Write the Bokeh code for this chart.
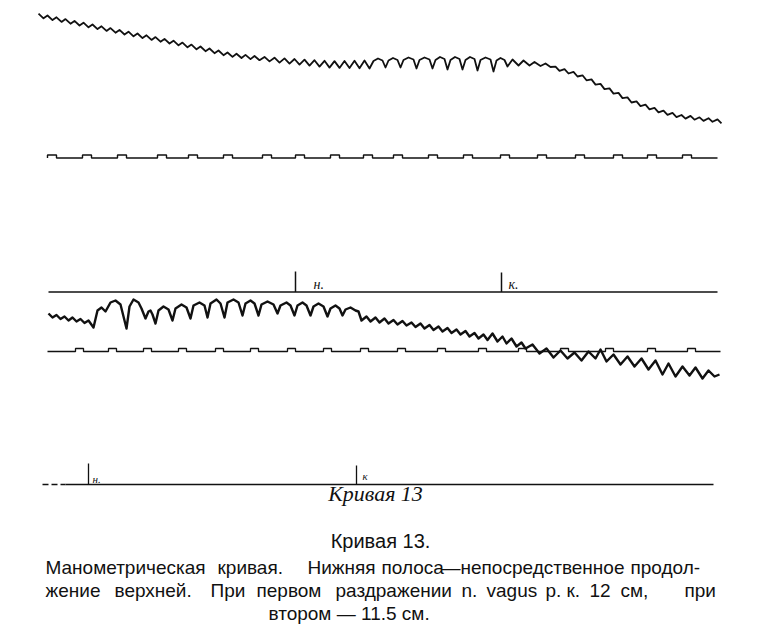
from bokeh.plotting import figure
from bokeh.models import Range1d
from bokeh.embed import file_html
from bokeh.resources import INLINE
from bokeh.core.properties import value

# ---------------- data read from the record (page units, y grows downward) ----------------
# upper strip: manometric trace (turning points of the pulse waves)
upper_trace_x = [38, 43, 47, 52, 56, 61, 65, 70, 74, 79, 83, 88, 92, 97, 101, 106, 110, 115, 119, 124,
                 128, 133, 137, 142, 146, 151, 155, 160, 164, 169, 173, 178, 182, 187, 191, 196, 200, 205, 209, 214,
                 218, 223, 227, 232, 236, 241, 245, 250, 254, 259,
                 264, 269, 274, 279, 284, 289, 294, 299, 304, 309, 314, 319, 324, 329, 334, 339, 344, 349, 354, 359, 364, 369,
                 373, 377.5, 382, 385, 388, 392.5, 397, 400, 403, 408, 413, 416, 419, 424, 429, 432, 435, 439.5, 444, 447,
                 450, 454.5, 459, 462, 465, 469.5, 474, 477, 480, 485, 490, 493, 496, 500, 504, 507,
                 512, 518, 523, 529, 534, 540, 545, 550,
                 555, 559, 564, 568, 573, 577, 582, 586, 591, 595, 600, 604, 609, 613, 618, 622, 627, 631, 636, 640,
                 645, 649, 654, 658, 663, 667, 672, 676, 681, 685, 690, 694, 699, 703, 708, 712, 717, 721]
upper_trace_y = [13.2, 17.8, 15.0, 19.6, 16.8, 21.4, 18.6, 23.2, 20.4, 25.0, 22.2, 26.8, 24.0, 28.6, 25.8, 30.4, 27.6, 32.2, 29.4, 34.0,
                 31.2, 35.8, 33.0, 37.6, 34.8, 39.4, 36.6, 41.2, 38.4, 43.0, 40.2, 44.8, 42.1, 46.8, 44.1, 48.8, 46.0, 50.7, 48.0, 52.7,
                 50.0, 54.7, 52.0, 56.4, 53.3, 57.5, 54.4, 58.6, 55.5, 59.7,
                 56.4, 60.9, 57.2, 62.1, 57.9, 63.1, 58.5, 64.1, 59.1, 65.1, 59.7, 66.1, 60.3, 67.1, 60.6, 67.4, 60.4, 67.6, 60.2, 67.8, 60.0, 68.0,
                 60.5, 58, 60, 67, 60, 57.5, 59.5, 67, 59.5, 57, 59, 68, 59.5, 57, 59, 68, 59.5, 56.5, 58.5, 69,
                 59.5, 56.5, 58.5, 69, 59.5, 56.5, 58.5, 70, 59.5, 57, 59, 71, 60, 57.5, 59.5, 66,
                 59, 65, 60, 65, 61.5, 65.5, 63, 66.5,
                 66.1, 70.4, 68.6, 73.0, 71.4, 76.0, 74.8, 79.8, 78.9, 84.1, 83.4, 88.6, 87.9, 93.1, 92.4, 97.6, 96.9, 102.0, 100.8, 105.6,
                 104.2, 108.8, 107.3, 111.9, 110.2, 114.4, 112.4, 116.6, 114.5, 118.1, 115.4, 119.2, 116.8, 120.4, 117.7, 121.3, 118.9, 122.8]

# time marker of the upper strip: start of each raised step
upper_time_marks = [47, 82, 117, 157, 188, 223, 262, 295, 330, 363, 393, 428, 463, 500, 537, 575, 613, 647, 682]

# lower strip: direct continuation of the upper record
lower_trace_x = [48, 52, 56, 60, 64, 68, 72, 76, 80, 84, 88, 93,
                 97, 101, 105, 110, 115, 120, 126, 129, 133, 138, 141, 145, 148, 150, 152,
                 155, 158, 163, 168, 172, 175, 181, 186, 190, 193, 199, 204, 207, 210, 216, 220,
                 224, 227, 233, 238, 242, 245, 250, 254, 258, 261, 267, 273, 277, 280, 286, 290,
                 294, 297, 302, 306, 310, 313, 318, 323, 327, 330, 335, 339, 342, 345, 350, 355, 358,
                 361, 366, 370, 375, 379, 384, 388, 393, 397, 402, 406, 411, 415, 420, 424, 429, 433, 438,
                 442, 447, 451, 456, 460, 465, 469, 474, 478, 483, 487, 492, 497, 502, 506, 511, 516, 521,
                 525, 532, 539, 546, 553, 560, 567, 574, 581, 588, 595, 600, 606, 613, 620, 627, 634, 641,
                 648, 655, 662, 668, 675, 682, 689, 695, 702, 708, 714, 719]
lower_trace_y = [313, 317, 314.5, 318.5, 316, 320, 317, 321, 318.5, 322.5, 320, 327,
                 310, 307, 311, 302, 300, 304, 328, 306, 299, 302, 308, 318, 311, 310, 314,
                 323, 310, 306, 309, 320, 308, 304, 307, 318, 305, 302, 305, 317, 303, 299, 303,
                 317, 302, 299, 302, 315, 303, 300, 303, 315, 304, 301, 304, 313, 305, 302, 305,
                 315, 305, 302, 305, 315, 306, 303, 306, 316, 308, 305, 308, 315, 309, 307, 310, 311,
                 320, 316, 321, 317, 322, 318, 323, 319.5, 324, 320.5, 325, 322, 326.5, 323, 328, 324.5, 329.5, 326,
                 331, 327.5, 332.5, 329, 334, 330.5, 336, 332.5, 338, 334, 339.5, 333, 341, 336, 343, 338, 346, 342,
                 348, 344, 353, 348, 357, 350, 358, 352, 360, 351, 358, 349, 361, 354, 364, 356, 366, 358,
                 369, 360, 374, 363, 376, 366, 375, 367, 378, 370, 376, 374]

lower_time_marks = [75, 108, 143, 178, 215, 250, 287, 323, 360, 397, 437, 478, 518, 560, 605, 647, 687]

# stimulation signal lines: start (н.) and end (к.) of vagus stimulation
signal_upper_marks = [295, 501]
signal_upper_labels = ["н.", "к."]
signal_lower_marks = [88, 356]
signal_lower_labels = ["н.", "к"]

title_text = "Кривая 13."
handwritten_text = "Кривая 13"
caption_line1 = ["Манометрическая", "кривая.", "Нижняя", "полоса", "—", "непосредственное", "продол-"]
caption_line2 = ["жение", "верхней.", "При", "первом", "раздражении", "n.", "vagus", "р.", "к.", "12", "см,", "при"]
caption_line3 = "втором — 11.5 см."

# ---------------- layout / style ----------------
INK = "#111111"
W, H = 760, 634
line1_x = [45, 217, 307, 381, 441, 460, 630]
line2_x = [45, 114, 210, 256, 335, 461, 486, 545, 566, 589, 620, 684]

p = figure(width=W, height=H, x_range=Range1d(0, W), y_range=Range1d(H, 0),
           output_backend="svg", toolbar_location=None,
           min_border=0, min_border_left=0, min_border_right=0, min_border_top=0, min_border_bottom=0)
p.axis.visible = False
p.grid.visible = False
p.outline_line_color = None
p.background_fill_color = "white"
p.border_fill_color = "white"


def marker_path(x0, x1, starts, width, base, top):
    xs, ys = [x0], [base]
    for s in starts:
        xs += [s, s, s + width, s + width]
        ys += [base, top, top, base]
    xs.append(x1)
    ys.append(base)
    return xs, ys


# traces
p.line(upper_trace_x, upper_trace_y, line_color=INK, line_width=1.8, line_join="round")
p.line(lower_trace_x, lower_trace_y, line_color=INK, line_width=2.4, line_join="round")

# time markers
mx, my = marker_path(47, 717, upper_time_marks, 9, 157.5, 154.5)
p.line(mx, my, line_color=INK, line_width=1.4)
mx, my = marker_path(47, 720, lower_time_marks, 8, 351, 348)
p.line(mx, my, line_color=INK, line_width=1.3)

# signal lines
p.line([48, 717], [291.5, 291.5], line_color=INK, line_width=1.5)
p.segment(x0=signal_upper_marks, y0=[291.5] * 2, x1=signal_upper_marks, y1=[271, 272],
          line_color=INK, line_width=1.5)
p.text(x=[313, 508], y=[284, 284], text=signal_upper_labels, text_font=value("Liberation Serif"),
       text_font_style="italic", text_font_size="14px", text_color=INK,
       text_align="left", text_baseline="middle")

p.line([42, 65], [484, 484], line_color=INK, line_width=1.4, line_dash="6 3")
p.line([65, 713], [484, 484], line_color=INK, line_width=1.4)
p.segment(x0=signal_lower_marks, y0=[484] * 2, x1=signal_lower_marks, y1=[463, 465],
          line_color=INK, line_width=1.3)
p.text(x=[92, 362], y=[478, 475], text=signal_lower_labels,
       text_font=value("Liberation Serif"), text_font_style="italic", text_font_size="11px",
       text_color=INK, text_align="left", text_baseline="middle")
p.text(x=[375], y=[493], text=[handwritten_text], text_font=value("Liberation Serif"),
       text_font_style="italic", text_font_size="22px", text_color=INK,
       text_align="center", text_baseline="middle")

# caption
CAP_FONT = value("Liberation Sans")
p.text(x=[380], y=[540], text=[title_text], text_font=CAP_FONT, text_font_size="20px",
       text_color=INK, text_align="center", text_baseline="middle")
p.text(x=line1_x, y=[567] * len(line1_x), text=caption_line1, text_font=CAP_FONT,
       text_font_size="19px", text_color=INK, text_align="left", text_baseline="middle")
p.text(x=line2_x, y=[590] * len(line2_x), text=caption_line2, text_font=CAP_FONT,
       text_font_size="19px", text_color=INK, text_align="left", text_baseline="middle")
p.text(x=[268], y=[613], text=[caption_line3], text_font=CAP_FONT, text_font_size="19px",
       text_color=INK, text_align="left", text_baseline="middle")

open("out.html", "w").write(file_html(p, INLINE))
